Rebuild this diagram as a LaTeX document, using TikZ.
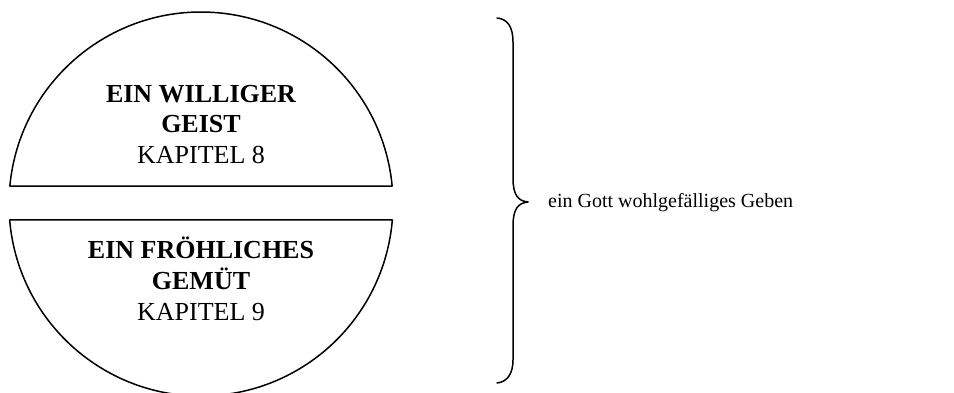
\documentclass[tikz,border=0pt]{standalone}
\usepackage{fontspec}
\setmainfont{Liberation Serif}
\begin{document}
\begin{tikzpicture}[x=1pt,y=1pt,
  seg/.style={draw=black,line width=1.5pt,line join=round},
  boxbold/.style={font=\fontsize{26}{30}\selectfont\bfseries,anchor=base,inner sep=0pt},
  boxplain/.style={font=\fontsize{26}{30}\selectfont,anchor=base,inner sep=0pt},
  maintext/.style={font=\fontsize{20}{24}\selectfont,anchor=base west,inner sep=0pt},
  bracepath/.style={draw=black,line width=1.5pt,line cap=round,line join=round}]
\useasboundingbox (0,0) rectangle (954,392);
\clip (0,0) rectangle (954,392);
\fill[white] (0,0) rectangle (954,392);
% top segment
\draw[seg] (201,188) ++(174.62:192pt) arc[start angle=174.62,end angle=5.38,radius=192pt] -- cycle;
% bottom segment
\draw[seg] (201,188) ++(184.78:192pt) arc[start angle=184.78,end angle=355.22,radius=192pt] -- cycle;
% texts
\node[boxbold] (t1) at (201,290) {EIN WILLIGER};
\node[boxbold] (t2) at (201,260) {GEIST};
\node[boxplain] (t3) at (201,229) {KAPITEL 8};
\node[boxbold] (b1) at (201,134) {EIN FRÖHLICHES};
\node[boxbold] (b2) at (201,103) {GEMÜT};
\node[boxplain] (b3) at (201,72) {KAPITEL 9};
% brace
\coordinate (brtop) at (497,374);
\coordinate (brtip) at (528,190);
\coordinate (brbot) at (497,9);
\draw[bracepath] (brtop) .. controls (507,373) and (513,366) .. (513,350)
  -- (513,214) .. controls (513,197) and (518,191) .. (brtip)
  .. controls (518,189) and (513,183) .. (513,166)
  -- (513,32) .. controls (513,18) and (507,10) .. (brbot);
\node[maintext] (lbl) at (548,185) {ein Gott wohlgefälliges Geben};
\end{tikzpicture}
\end{document}
